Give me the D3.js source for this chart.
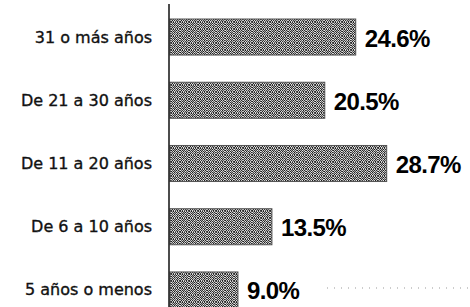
<!DOCTYPE html>
<meta charset="utf-8">
<script src="https://d3js.org/d3.v7.min.js"></script>
<style>
  body { margin: 0; background: #fff; }
</style>
<div id="my_dataviz"></div>
<script>
  // data
  var categories = ["31 o más años", "De 21 a 30 años", "De 11 a 20 años", "De 6 a 10 años", "5 años o menos"];
  var values = [24.6, 20.5, 28.7, 13.5, 9.0];
  var valueLabels = ["24.6%", "20.5%", "28.7%", "13.5%", "9.0%"];

  var width = 470, height = 307;

  var svg = d3.select("#my_dataviz")
    .append("svg")
      .attr("width", width)
      .attr("height", height);

  // grainy stipple fill like the scanned halftone
  var defs = svg.append("defs");
  var tile = ["3a1b2c0a1",
              "1c0a3b1a2",
              "b2a1c0a3c",
              "0a3c1b2a1",
              "a1b0a3c1b",
              "2c1a2b0a3",
              "a0b3a1c2a"];
  var shade = {"0": "#1a1a1a", "1": "#3d3d3d", "2": "#5e5e5e", "3": "#2a2a2a",
               "a": "#c9c9c9", "b": "#e6e6e6", "c": "#a8a8a8"};
  var pat = defs.append("pattern")
      .attr("id", "grain")
      .attr("width", tile[0].length)
      .attr("height", tile.length)
      .attr("patternUnits", "userSpaceOnUse");
  tile.forEach(function(row, r) {
    row.split("").forEach(function(ch, c) {
      pat.append("rect")
        .attr("x", c).attr("y", r)
        .attr("width", 1).attr("height", 1)
        .attr("fill", shade[ch]);
    });
  });

  var x = d3.scaleLinear()
      .domain([0, 40])
      .range([170, 472]);

  var y = d3.scaleBand()
      .domain(categories)
      .range([19, 308])
      .paddingInner(0.43)
      .paddingOuter(0)
      .align(0);

  // bars
  svg.append("g")
    .selectAll("rect")
    .data(values)
    .enter()
    .append("rect")
      .attr("x", x(0))
      .attr("y", function(d, i) { return y(categories[i]); })
      .attr("width", function(d) { return x(d) - x(0); })
      .attr("height", y.bandwidth())
      .attr("fill", "url(#grain)")
      .attr("stroke", "#555")
      .attr("stroke-width", 1);

  // vertical axis line
  svg.append("line")
      .attr("x1", 169).attr("x2", 169)
      .attr("y1", 4).attr("y2", height)
      .attr("stroke", "#111")
      .attr("stroke-width", 1.5);

  // category labels
  svg.append("g")
    .selectAll("text")
    .data(categories)
    .enter()
    .append("text")
      .attr("x", 152)
      .attr("y", function(d) { return y(d) + y.bandwidth() / 2 + 5.5; })
      .attr("text-anchor", "end")
      .style("font-family", "DejaVu Sans, sans-serif")
      .style("font-size", "16px")
      .style("fill", "#111")
      .style("stroke", "#111")
      .style("stroke-width", 0.35)
      .text(function(d) { return d; });

  // value labels
  svg.append("g")
    .selectAll("text")
    .data(values)
    .enter()
    .append("text")
      .attr("x", function(d) { return x(d) + 9; })
      .attr("y", function(d, i) { return y(categories[i]) + y.bandwidth() / 2 + 9.5; })
      .style("font-family", "Liberation Sans, Arial, sans-serif")
      .style("font-weight", "bold")
      .style("font-size", "24px")
      .style("letter-spacing", "-0.6px")
      .style("fill", "#000")
      .text(function(d, i) { return valueLabels[i]; });

  // faint dotted trace at the bottom right of the scan
  svg.append("line")
      .attr("x1", 327).attr("x2", 470)
      .attr("y1", 288).attr("y2", 288)
      .attr("stroke", "#999")
      .attr("stroke-width", 1)
      .attr("stroke-dasharray", "1,6");
</script>
